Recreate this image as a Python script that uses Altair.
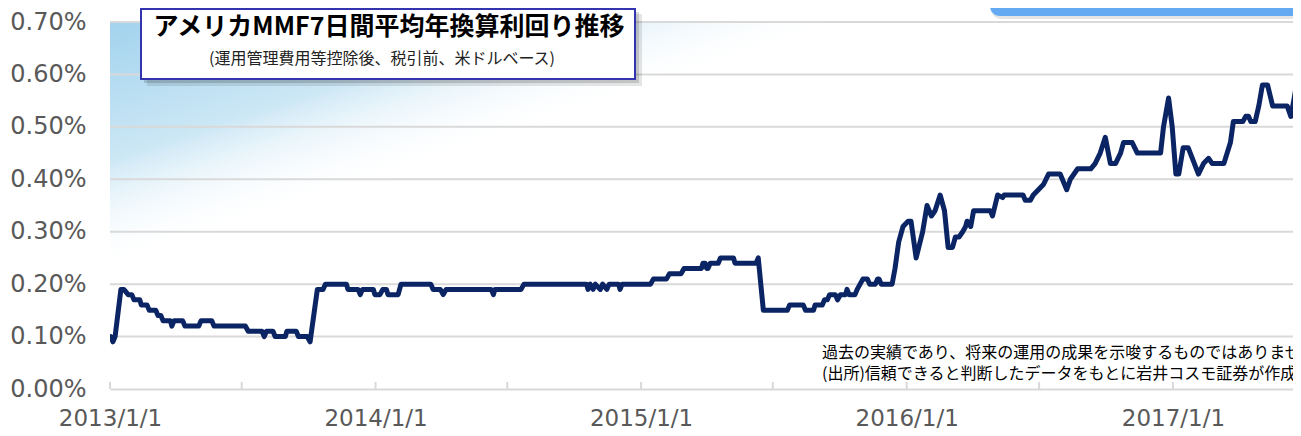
import altair as alt
import pandas as pd

# ---------------- data ----------------
START = "2013-01-01"
# days since 2013-01-01 and 7-day average annualised yield (%)
days = [1, 4, 7, 15, 19, 25, 30, 33, 41, 43, 51, 54, 63, 66, 70, 73, 83, 85, 88, 100,
        103, 122, 125, 140, 143, 186, 190, 209, 212, 215, 224, 227, 241, 243, 256, 259, 271, 275, 285, 293,
        296, 325, 327, 341, 344, 347, 362, 364, 371, 375, 380, 382, 396, 400, 441, 444, 454, 458, 462, 524,
        527, 529, 565, 569, 655, 657, 660, 664, 667, 674, 677, 683, 686, 699, 701, 704, 743, 747, 765, 769,
        785, 789, 813, 815, 818, 820, 822, 825, 836, 839, 857, 859, 888, 891, 898, 931, 934, 953, 956, 967,
        969, 979, 982, 986, 989, 997, 1000, 1004, 1011, 1013, 1016, 1024, 1027, 1031, 1035, 1041, 1044, 1052, 1055, 1057,
        1060, 1075, 1079, 1084, 1090, 1097, 1101, 1108, 1117, 1123, 1129, 1134, 1141, 1147, 1152, 1158, 1162, 1167, 1172, 1176,
        1178, 1183, 1187, 1210, 1213, 1220, 1227, 1229, 1255, 1258, 1265, 1269, 1276, 1283, 1290, 1306, 1315, 1320, 1330, 1348,
        1354, 1361, 1368, 1375, 1382, 1389, 1393, 1405, 1412, 1444, 1448, 1455, 1460, 1465, 1469, 1475, 1482, 1489, 1496, 1503,
        1510, 1515, 1531, 1540, 1544, 1557, 1561, 1565, 1568, 1574, 1579, 1584, 1591, 1598, 1618, 1623, 1627, 1632, 1636]
yields = [0.10, 0.09, 0.10, 0.19, 0.19, 0.18, 0.18, 0.17, 0.17, 0.16, 0.16, 0.15, 0.15, 0.14, 0.14, 0.13, 0.13, 0.12, 0.13, 0.13,
          0.12, 0.12, 0.13, 0.13, 0.12, 0.12, 0.11, 0.11, 0.10, 0.11, 0.11, 0.10, 0.10, 0.11, 0.11, 0.10, 0.10, 0.09, 0.19, 0.19,
          0.20, 0.20, 0.19, 0.19, 0.18, 0.19, 0.19, 0.18, 0.18, 0.19, 0.19, 0.18, 0.18, 0.20, 0.20, 0.19, 0.19, 0.18, 0.19, 0.19,
          0.18, 0.19, 0.19, 0.20, 0.20, 0.19, 0.20, 0.19, 0.20, 0.19, 0.20, 0.19, 0.20, 0.20, 0.19, 0.20, 0.20, 0.21, 0.21, 0.22,
          0.22, 0.23, 0.23, 0.24, 0.24, 0.23, 0.23, 0.24, 0.24, 0.25, 0.25, 0.24, 0.24, 0.25, 0.15, 0.15, 0.16, 0.16, 0.15, 0.15,
          0.16, 0.16, 0.17, 0.17, 0.18, 0.18, 0.17, 0.18, 0.18, 0.19, 0.18, 0.18, 0.19, 0.20, 0.21, 0.21, 0.20, 0.20, 0.21, 0.21,
          0.20, 0.20, 0.23, 0.28, 0.31, 0.32, 0.32, 0.25, 0.30, 0.35, 0.33, 0.34, 0.37, 0.34, 0.27, 0.27, 0.29, 0.29, 0.30, 0.31,
          0.32, 0.31, 0.34, 0.34, 0.33, 0.37, 0.365, 0.37, 0.37, 0.36, 0.36, 0.37, 0.38, 0.39, 0.41, 0.41, 0.38, 0.40, 0.42, 0.42,
          0.43, 0.45, 0.48, 0.43, 0.43, 0.45, 0.47, 0.47, 0.45, 0.45, 0.50, 0.555, 0.50, 0.41, 0.41, 0.46, 0.46, 0.435, 0.41, 0.43,
          0.44, 0.43, 0.43, 0.47, 0.51, 0.51, 0.52, 0.52, 0.51, 0.51, 0.54, 0.58, 0.58, 0.54, 0.54, 0.52, 0.55, 0.59, 0.61]

y_ticks = [0.0, 0.1, 0.2, 0.3, 0.4, 0.5, 0.6, 0.7]
year_labels = [2013, 2014, 2015, 2016, 2017]
minor_tick_dates = ["2013-01-01", "2013-07-01", "2014-01-01", "2014-07-01", "2015-01-01",
                    "2015-07-01", "2016-01-01", "2016-07-01", "2017-01-01"]

title_text = "アメリカMMF7日間平均年換算利回り推移"
subtitle_text = "(運用管理費用等控除後、税引前、米ドルベース)"
note_line1 = "過去の実績であり、将来の運用の成果を示唆するものではありません。"
note_line2 = "(出所)信頼できると判断したデータをもとに岩井コスモ証券が作成"

# ---------------- build ----------------
df = pd.DataFrame({
    "date": pd.Timestamp(START) + pd.to_timedelta(days, unit="D"),
    "yield": yields,
})
one = pd.DataFrame({"k": [0]})

W, H = 1183, 367
AX_FONT = "DejaVu Sans"
JP_FONT = "Noto Sans CJK JP"

xscale = alt.Scale(domain=[alt.DateTime(year=2013, month=1, date=1),
                           alt.DateTime(year=2017, month=6, date=15)])
yscale = alt.Scale(domain=[0, 0.7], nice=False, zero=True)

x_axis = alt.Axis(values=[alt.DateTime(year=y, month=1, date=1) for y in year_labels],
                  format="%Y/%-m/%-d", grid=False, ticks=False, title=None,
                  domain=True, domainColor="#d9d9d9", domainWidth=2,
                  labelFont=AX_FONT, labelFontSize=23, labelColor="#595959",
                  labelPadding=18, labelFlush=False, labelOverlap=False)
y_axis = alt.Axis(values=y_ticks, labelExpr="format(datum.value, '.2f') + '%'",
                  grid=False, ticks=False, domain=False, title=None,
                  labelFont=AX_FONT, labelFontSize=24, labelColor="#595959",
                  labelPadding=24, labelOverlap=False)

grad = alt.Chart(one).mark_rect(
    fill=alt.LinearGradient(
        gradient="linear",
        stops=[alt.GradientStop(color="#a2d3ee", offset=0),
               alt.GradientStop(color="#cce7f5", offset=0.55),
               alt.GradientStop(color="rgba(255,255,255,0)", offset=1)],
        x1=0, y1=0, x2=0.34, y2=0.32),
).encode(x=alt.value(0), x2=alt.value(W), y=alt.value(0), y2=alt.value(H))

grid = alt.Chart(pd.DataFrame({"v": y_ticks[1:]})).mark_rule(
    color="#d9d9d9", strokeWidth=2
).encode(y=alt.Y("v:Q", scale=yscale, axis=y_axis, title=None))

ticks = alt.Chart(pd.DataFrame({"d": pd.to_datetime(minor_tick_dates)})).mark_rule(
    color="#d9d9d9", strokeWidth=2
).encode(x=alt.X("d:T", scale=xscale, axis=x_axis, title=None),
         y=alt.value(H - 7), y2=alt.value(H))

line = alt.Chart(df).mark_line(
    color="#0b2464", strokeWidth=5, strokeJoin="round", strokeCap="round", clip=True
).encode(
    x=alt.X("date:T", scale=xscale, axis=x_axis, title=None),
    y=alt.Y("yield:Q", scale=yscale, axis=y_axis, title=None),
)

blue_shadow = alt.Chart(one).mark_rect(color="#000000", opacity=0.10, cornerRadius=10).encode(
    x=alt.value(881), x2=alt.value(W + 30), y=alt.value(-40), y2=alt.value(-3))
blue_box = alt.Chart(one).mark_rect(color="#64aaf2", cornerRadius=10).encode(
    x=alt.value(880), x2=alt.value(W + 30), y=alt.value(-40), y2=alt.value(-6))

t_shadow1 = alt.Chart(one).mark_rect(color="#000000", opacity=0.10).encode(
    x=alt.value(37), x2=alt.value(532), y=alt.value(-8), y2=alt.value(64))
t_shadow2 = alt.Chart(one).mark_rect(color="#000000", opacity=0.15).encode(
    x=alt.value(34), x2=alt.value(529), y=alt.value(-10), y2=alt.value(61))
t_box = alt.Chart(one).mark_rect(fill="#ffffff", stroke="#3434ae", strokeWidth=2).encode(
    x=alt.value(31), x2=alt.value(525), y=alt.value(-13), y2=alt.value(57))

t_title = alt.Chart(one).mark_text(
    font=JP_FONT, fontSize=25, fontWeight="bold", color="#000000", align="center", baseline="middle"
).encode(x=alt.value(279), y=alt.value(5), text=alt.value(title_text))
t_sub = alt.Chart(one).mark_text(
    font=JP_FONT, fontSize=16, color="#222222", align="center", baseline="middle"
).encode(x=alt.value(272), y=alt.value(37), text=alt.value(subtitle_text))

n1 = alt.Chart(one).mark_text(
    font=JP_FONT, fontSize=16, color="#000000", align="left", baseline="middle"
).encode(x=alt.value(712), y=alt.value(331), text=alt.value(note_line1))
n2 = alt.Chart(one).mark_text(
    font=JP_FONT, fontSize=16, color="#000000", align="left", baseline="middle"
).encode(x=alt.value(712), y=alt.value(351.5), text=alt.value(note_line2))

chart = alt.layer(
    grad, grid, ticks, line, blue_shadow, blue_box, t_shadow1, t_shadow2, t_box, t_title, t_sub, n1, n2
).properties(
    width=W, height=H,
    padding={"left": 102, "top": 14, "right": 0, "bottom": 39},
    autosize=alt.AutoSizeParams(type="none"),
).configure_view(stroke=None)

chart.save("out.html", embed_options={"renderer": "svg", "actions": False})
